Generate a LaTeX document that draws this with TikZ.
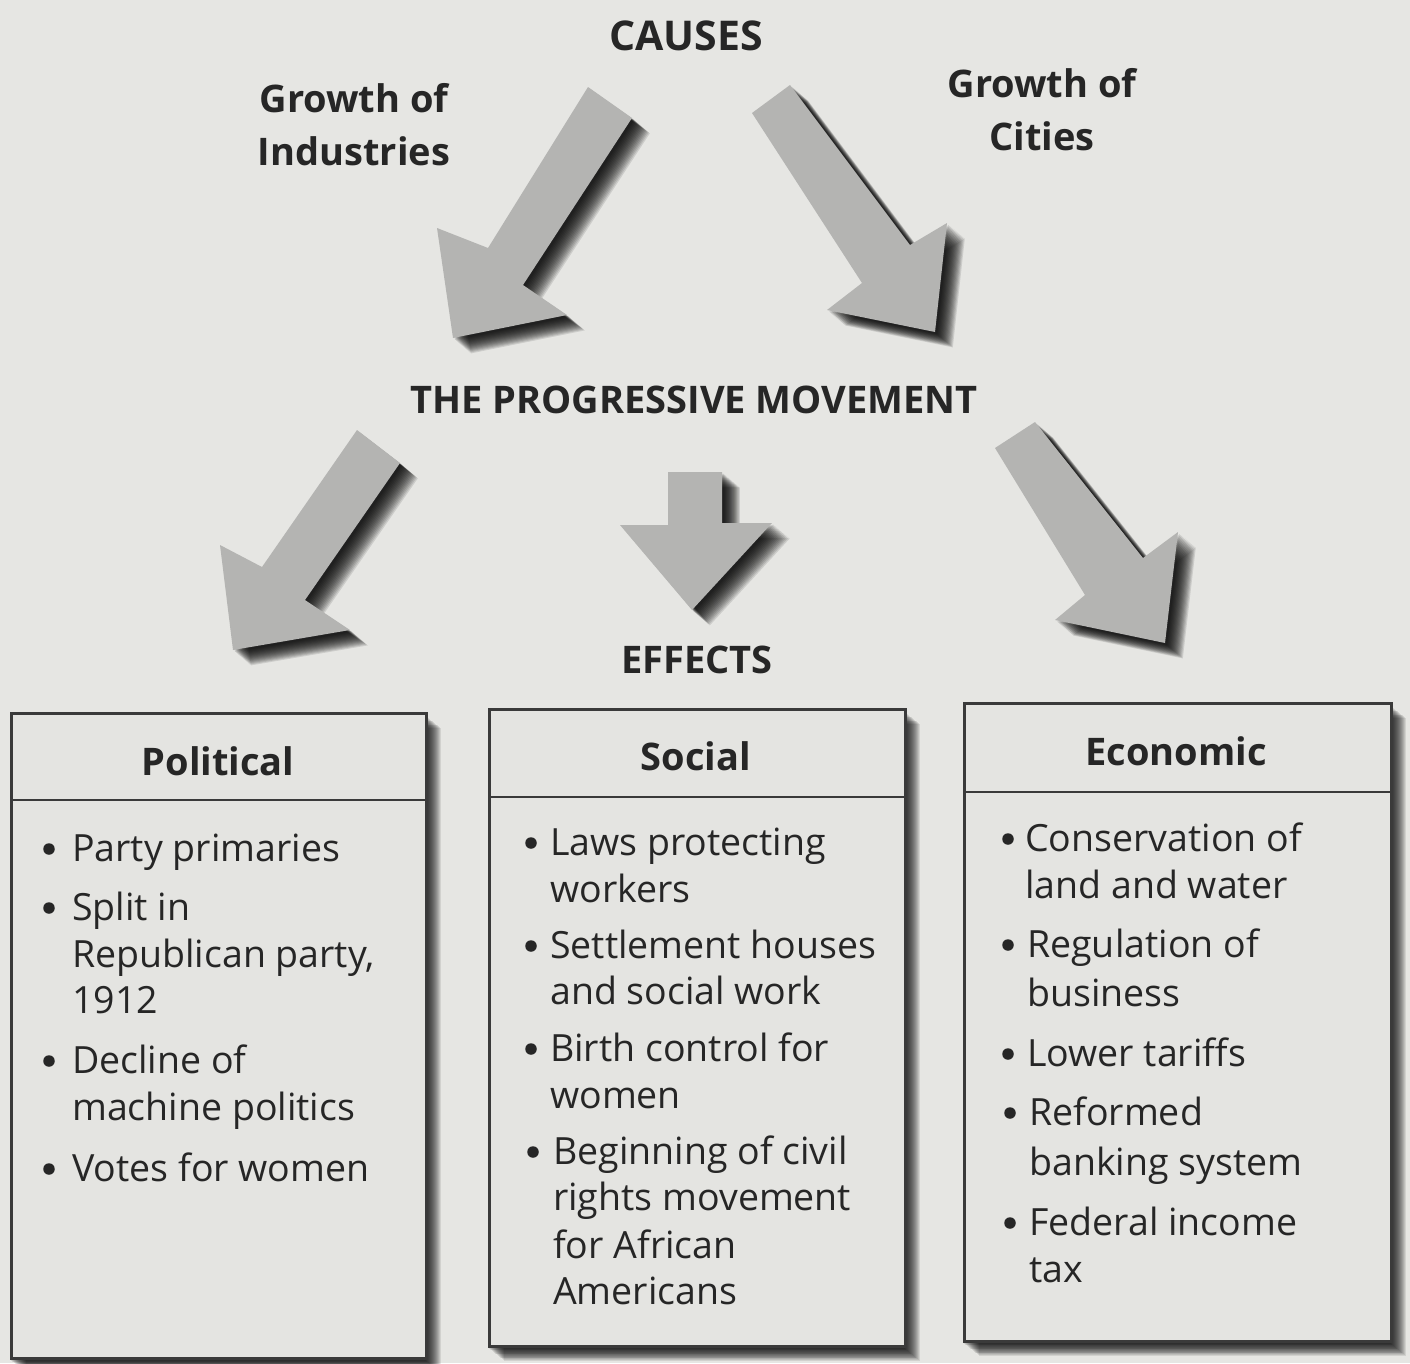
\documentclass[tikz,border=0pt]{standalone}
\usepackage{fontspec}
\setmainfont{Open Sans}
\usetikzlibrary{calc}
\definecolor{bg}{HTML}{E6E6E3}
\definecolor{boxfill}{HTML}{E4E4E1}
\definecolor{boxline}{HTML}{3A3A3A}
\definecolor{arrowgray}{HTML}{B4B4B2}
\definecolor{ink}{HTML}{262626}
\newcommand\fatarrow[1]{%
  \foreach \k in {1,...,16}{\fill[black,opacity=0.11,shift={({1+\k*1.05},{1+\k*0.9})}] #1;}
  \fill[arrowgray] #1;}
\newcommand\panelshadow[2]{%
  \foreach \k in {1,...,16}{\fill[black,opacity=0.09,shift={({\k*1.0},{3+\k*0.8})}] #1 rectangle #2;}}
\tikzset{
  lbl/.style={font=\bfseries\fontsize{38}{46}\selectfont, text=ink, inner sep=0pt, anchor=base},
  itm/.style={font=\fontsize{37.5}{47}\selectfont, text=ink, inner sep=0pt, anchor=base west},
  bul/.style={circle, fill=ink, minimum size=11.5pt, inner sep=0pt, yshift=12pt},
  panel/.style={draw=boxline, line width=2.5pt, fill=boxfill, inner sep=0pt, anchor=north west},
  divider/.style={draw=boxline, line width=2.5pt},
}
\begin{document}
\begin{tikzpicture}[x=1pt,y=-1pt]
\useasboundingbox (0,0) rectangle (1410,1363);
\fill[bg] (0,0) rectangle (1410,1363);

% ---- arrows ----
\fatarrow{(588,87) -- (632,118) -- (523,285) -- (567,315) -- (453,338) -- (437,228) -- (488,248) -- cycle}
\fatarrow{(752,113) -- (790,85) -- (910,245) -- (947,223) -- (935,332) -- (827,310) -- (862,283) -- cycle}
\fatarrow{(357,430) -- (400,463) -- (305,600) -- (350,630) -- (233,650) -- (220,545) -- (262,567) -- cycle}
\fatarrow{(668,472) -- (722,472) -- (722,523) -- (772,523) -- (692,610) -- (620,525) -- (668,525) -- cycle}
\fatarrow{(995,448) -- (1035,422) -- (1143,558) -- (1178,532) -- (1165,643) -- (1055,620) -- (1085,595) -- cycle}

% ---- labels ----
\node[lbl, font=\bfseries\fontsize{41}{48}\selectfont] (causes) at (686,50) {CAUSES};
\node[lbl] (gi1) at (354,112) {Growth of};
\node[lbl] (gi2) at (354,165) {Industries};
\node[lbl] (gc1) at (1042,97) {Growth of};
\node[lbl] (gc2) at (1042,150) {Cities};
\node[lbl] (prog) at (694,413) {THE PROGRESSIVE MOVEMENT};
\node[lbl] (eff) at (697,673) {EFFECTS};

% ---- panels ----
\panelshadow{(10,712)}{(425,1357)}
\panelshadow{(488,708)}{(904,1345)}
\panelshadow{(963,702)}{(1390,1340)}
\node[panel, minimum width=415, minimum height=645] (pol) at (10,712) {};
\node[panel, minimum width=416, minimum height=637] (soc) at (488,708) {};
\node[panel, minimum width=427, minimum height=638] (eco) at (963,702) {};
\draw[divider] ($(pol.north west)+(0,88)$) -- ($(pol.north east)+(0,88)$);
\draw[divider] ($(soc.north west)+(0,89)$) -- ($(soc.north east)+(0,89)$);
\draw[divider] ($(eco.north west)+(0,90)$) -- ($(eco.north east)+(0,90)$);

\node[lbl] (polh) at (218,775) {Political};
\node[lbl] (soch) at (696,770) {Social};
\node[lbl] (ecoh) at (1176,765) {Economic};

% Political
\node[bul] (pb1) at (49,861) {};
\node[itm] (p1) at (72,861) {Party primaries};
\node[bul] (pb2) at (49,920) {};
\node[itm] (p2a) at (72,920) {Split in};
\node[itm] (p2b) at (72,967) {Republican party,};
\node[itm] (p2c) at (72,1013) {1912};
\node[bul] (pb3) at (49,1073) {};
\node[itm] (p3a) at (72,1073) {Decline of};
\node[itm] (p3b) at (72,1120) {machine politics};
\node[bul] (pb4) at (49,1181) {};
\node[itm] (p4) at (72,1181) {Votes for women};

% Social
\node[bul] (sb1) at (531,855) {};
\node[itm] (s1a) at (550,855) {Laws protecting};
\node[itm] (s1b) at (550,902) {workers};
\node[bul] (sb2) at (531,958) {};
\node[itm] (s2a) at (550,958) {Settlement houses};
\node[itm] (s2b) at (550,1004) {and social work};
\node[bul] (sb3) at (531,1061) {};
\node[itm] (s3a) at (550,1061) {Birth control for};
\node[itm] (s3b) at (550,1108) {women};
\node[bul] (sb4) at (533,1164) {};
\node[itm] (s4a) at (553,1164) {Beginning of civil};
\node[itm] (s4b) at (553,1210) {rights movement};
\node[itm] (s4c) at (553,1258) {for African};
\node[itm] (s4d) at (553,1304) {Americans};

% Economic
\node[bul] (eb1) at (1008,851) {};
\node[itm] (e1a) at (1025,851) {Conservation of};
\node[itm] (e1b) at (1025,898) {land and water};
\node[bul] (eb2) at (1008,957) {};
\node[itm] (e2a) at (1027,957) {Regulation of};
\node[itm] (e2b) at (1027,1006) {business};
\node[bul] (eb3) at (1008,1066) {};
\node[itm] (e3) at (1027,1066) {Lower tariffs};
\node[bul] (eb4) at (1010,1125) {};
\node[itm] (e4a) at (1029,1125) {Reformed};
\node[itm] (e4b) at (1029,1175) {banking system};
\node[bul] (eb5) at (1010,1235) {};
\node[itm] (e5a) at (1029,1235) {Federal income};
\node[itm] (e5b) at (1029,1282) {tax};
\end{tikzpicture}
\end{document}
